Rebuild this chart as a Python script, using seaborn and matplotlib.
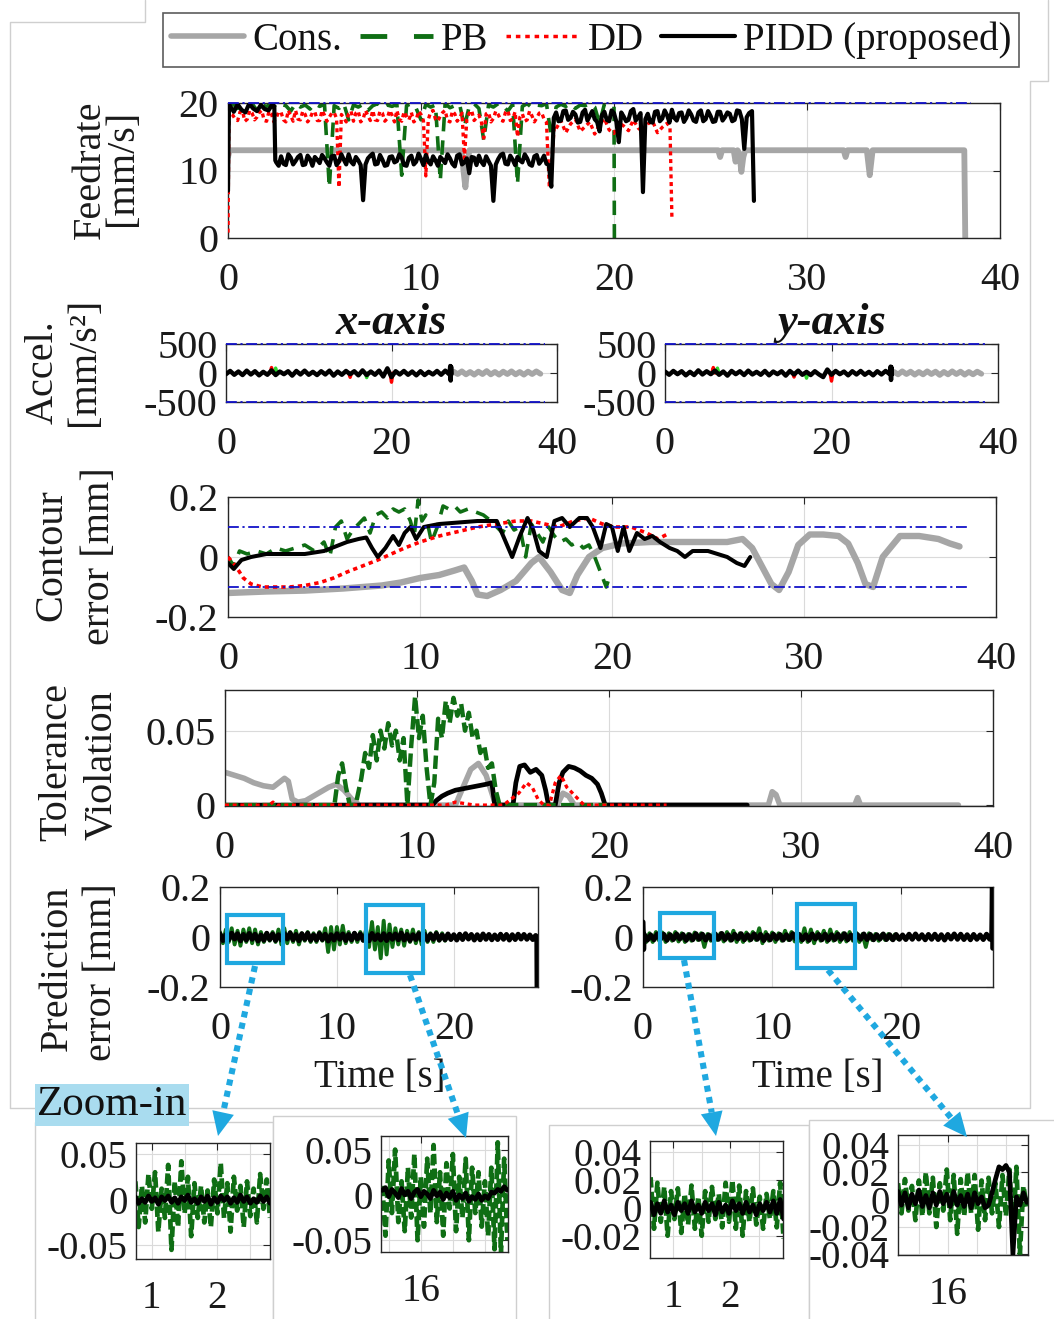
import numpy as np
import matplotlib
matplotlib.use("Agg")
import matplotlib.pyplot as plt
import seaborn as sns
from matplotlib.lines import Line2D
from matplotlib.patches import Rectangle, Polygon

# ------------------------------------------------------------------
# Series values
# ------------------------------------------------------------------
LIMIT_END = 38.5          # end of the limit lines [s]
FEED_LIMIT = 20.0         # feedrate limit [mm/s]
ACC_LIMIT = 500.0         # acceleration limit [mm/s^2]
TOL = 0.1                 # contour tolerance [mm]

# --- Feedrate [mm/s] ---
cons_feed_t = [0.0, 0.08, 12.1, 12.2, 12.3, 12.4, 12.5, 25.4, 25.5, 25.6, 26.2, 26.3,
               26.4, 26.5, 26.6, 26.7, 26.8, 31.9, 32.0, 32.1, 33.1, 33.25, 33.4,
               38.15, 38.2]
cons_feed_v = [12.0, 13.0, 13.0, 10.0, 7.5, 10.5, 13.0, 13.0, 12.0, 13.0, 13.0, 11.3,
               13.0, 12.5, 9.8, 12.0, 13.0, 13.0, 12.0, 13.0, 13.0, 9.3, 13.0,
               13.0, 0.0]

pb_feed_v = [19.6, 19.9, 19.2, 19.8, 19.4, 19.9, 18.9, 19.7, 19.5, 19.9,
             19.3, 19.8, 19.6, 18.8, 19.9, 19.4, 19.7, 19.1, 19.9, 19.5,
             19.8, 7.5, 19.6, 19.2, 19.9, 17.5, 19.7, 19.4, 19.8, 18.9,
             19.6, 19.9, 19.3, 19.7, 19.5, 19.8, 9.3, 19.6, 19.9, 19.2,
             17.5, 19.8, 19.4, 19.7, 8.5, 19.9, 19.3, 19.6, 19.8, 16.5,
             19.5, 19.9, 19.2, 14.5, 19.7, 19.4, 19.9, 19.6, 18.8, 19.8,
             8.0, 19.5, 19.9, 19.3, 19.7, 19.6, 19.9, 15.0, 19.4, 19.8,
             19.5, 19.9, 19.2, 19.7, 19.6, 19.9, 19.4, 17.0, 19.8, 19.5]   # t = 0 .. 19.75
pb_feed_end_t = [20.0, 20.02]
pb_feed_end_v = [19.5, 0.0]

dd_feed_start_t = [0.0, 0.05]
dd_feed_start_v = [0.8, 18.5]
dd_feed_hi_v = [18.2, 17.6, 17.4, 18.7, 18.8, 17.3, 17.6, 18.9, 18.5, 17.5,
                17.9, 18.6, 18.9, 17.4, 17.3, 18.8, 18.4, 17.2, 17.8, 18.7,
                18.6, 17.5, 17.2, 18.9, 18.1, 17.3, 18.9, 17.6, 17.5, 18.8,
                18.3, 17.2, 17.7, 18.6, 18.7, 17.4, 17.4, 18.9, 18.2, 17.3,
                17.9, 18.5, 18.6, 17.7, 7.5, 18.3, 17.8, 17.2, 18.4, 18.8,
                17.3, 18.5, 18.8, 17.2, 17.6, 18.9, 18.1, 17.4, 18.9, 17.5,
                17.4, 18.8, 18.5, 17.3, 17.7, 18.9, 18.2, 17.2, 18.9, 17.6,
                17.3, 18.7, 18.0, 17.5, 18.6, 17.2, 17.5, 18.8, 18.3, 17.4,
                9.2, 17.5, 18.7, 18.9, 17.6, 17.3, 18.1, 18.6, 18.9, 17.4,
                17.2, 18.8, 18.4, 17.3, 17.8, 18.5, 11.8, 17.6, 18.5, 18.9,
                17.4, 17.8, 18.2, 17.3, 14.8, 18.4, 18.6, 17.2, 17.7, 18.8,
                18.3, 17.5, 17.3, 18.6, 18.9, 17.4, 17.6, 18.7, 15.0, 17.9,
                18.4, 17.3, 17.5, 18.8, 18.1, 17.2, 17.8, 18.5, 18.6, 17.6, 17.2]  # t = 0.25 .. 16.5
dd_feed_step_t = [16.65, 16.75, 16.9]
dd_feed_step_v = [7.5, 10.0, 16.5]
dd_feed_lo_v = [16.2, 17.4, 15.6, 16.9, 17.6, 15.8, 16.5, 17.2, 15.4, 16.8,
                17.7, 16.0, 15.5, 17.1, 16.6, 15.9, 17.5, 16.3, 15.7, 16.9,
                17.3, 15.6, 16.4, 17.0]                                       # t = 17.0 .. 22.75
dd_feed_end_t = [22.9, 23.0]
dd_feed_end_v = [16.5, 3.0]

pidd_feed_start_t = [0.0, 0.05]
pidd_feed_start_v = [7.0, 19.5]
pidd_feed_hi_v = [19.6, 18.7, 19.8, 19.0, 18.6, 19.9, 19.2, 18.8, 19.7, 19.1, 18.9, 19.8]  # t = 0.1 .. 2.3
pidd_feed_drop_t = [2.4, 2.45]
pidd_feed_drop_v = [19.5, 11.5]
pidd_feed_mid_v = [11.2, 10.7, 12.1, 11.0, 10.8, 12.4, 11.9, 10.9, 11.4, 12.0,
                   12.3, 10.8, 10.9, 12.2, 11.7, 10.7, 12.0, 11.6, 11.1, 12.3,
                   11.8, 11.2, 10.7, 12.1, 12.2, 10.8, 11.3, 12.4, 11.6, 10.9,
                   12.4, 11.3, 10.9, 12.0, 11.5, 10.8, 5.6, 10.9, 11.8, 12.2,
                   12.5, 10.9, 11.0, 12.3, 11.6, 10.7, 10.8, 12.0, 12.1, 11.2,
                   11.4, 12.4, 11.9, 10.8, 10.7, 11.9, 12.2, 10.9, 11.3, 12.5,
                   11.7, 10.8, 12.3, 11.4, 10.9, 12.1, 11.5, 10.7, 12.0, 11.6,
                   11.1, 12.4, 11.8, 11.0, 10.6, 12.2, 12.4, 10.9, 11.2, 11.8,
                   9.6, 12.0, 11.9, 10.8, 12.2, 11.3, 10.8, 12.1, 11.4, 10.7,
                   5.5, 10.9, 11.7, 12.3, 12.5, 11.0, 10.9, 12.2, 11.6, 10.8,
                   12.0, 11.5, 11.2, 12.4, 11.8, 10.9, 10.7, 12.1, 12.3, 11.0,
                   11.5, 12.2, 11.0, 10.8, 7.6]                               # t = 2.5 .. 16.75
pidd_feed_rise_t = [16.88]
pidd_feed_rise_v = [17.8]
pidd_feed_top_v = [18.6, 17.3, 17.4, 18.8, 18.9, 17.5, 17.8, 18.7, 18.3, 17.1,
                   17.2, 18.6, 19.0, 17.4, 18.1, 18.8, 17.6, 17.2, 15.8, 18.2,
                   18.7, 17.5, 17.3, 18.9, 18.5, 17.2, 14.2, 18.6, 18.0, 17.3,
                   17.5, 18.8, 19.1, 17.4, 17.9, 18.5, 6.8, 17.6, 18.4, 17.2,
                   17.1, 18.7, 18.8, 17.3, 17.7, 18.9, 18.2, 17.1, 19.0, 17.8,
                   17.4, 18.5, 18.6, 17.2, 17.8, 18.9, 18.3, 17.4, 17.2, 18.6,
                   18.9, 17.3, 17.6, 18.8, 18.1, 17.2, 17.3, 18.7, 18.7, 17.4,
                   17.9, 18.6, 18.4, 17.3, 17.5, 18.9, 18.8, 17.6, 13.2, 17.9,
                   18.5]                                                     # t = 17.0 .. 27.0
pidd_feed_end_t = [27.15, 27.25]
pidd_feed_end_v = [18.8, 5.5]

# --- Acceleration [mm/s^2] ---
acc_x_pidd_v = [-20, 35, -30, 25, -35, 40, -25, 30, -40, 20, -30, 45, -35, 25, -20, 30,
                -45, 35, -25, 40, -30, 20, -35, 30, -25, 40, -45, 25, -30, 35, -20, 30,
                -40, 45, -35, 25, -30, 40, -60, 80, -70, 30, -25, 35, -30, 25, -40, 30,
                -35, 20, -25, 35, -30, 40, -25]                              # t = 0 .. 27
acc_x_pidd_end_t = [27.1, 27.15, 27.2, 27.25]
acc_x_pidd_end_v = [120, -130, 110, -20]
acc_x_cons_v = [25, -20, 30, -25, 20, -30, 25, -20, 35, -25, 20, -30, 25, -20, 30, -25,
                20, -30, 25, -20, 30, -15]                                   # t = 27.5 .. 38
acc_x_dd_t = [5.5, 15.0, 20.0]
acc_x_dd_v = [95, -75, -160]
acc_x_pb_t = [6.0, 17.0]
acc_x_pb_v = [85, -80]

acc_y_pidd_v = [25, -30, 35, -20, 30, -40, 20, -35, 45, -25, 30, -20, 40, -30, 25, -45,
                35, -20, 30, -35, 40, -25, 20, -30, 35, -40, 25, -20, 30, -45, 35, -25,
                40, -30, 20, -35, 30, -25, -70, 60, -30, 35, -20, 25, -40, 30, -25, 35,
                -30, 20, -40, 30, -25, 35, -20]
acc_y_pidd_end_t = [27.1, 27.15, 27.2, 27.25]
acc_y_pidd_end_v = [110, -120, 100, -25]
acc_y_cons_v = [20, -25, 30, -20, 25, -30, 20, -25, 30, -20, 25, -35, 20, -25, 30, -20,
                25, -30, 20, -25, 25, -15]
acc_y_dd_t = [5.8, 15.5, 20.0]
acc_y_dd_v = [95, -70, -140]
acc_y_pb_t = [6.3, 17.0]
acc_y_pb_v = [85, -90]

# --- Contour error [mm] ---
cons_ce_t = [0, 2, 4, 6, 8, 9, 10, 11, 11.8, 12.3, 12.7, 13.0, 13.5, 14.2, 15.0, 15.8,
             16.2, 16.8, 17.4, 17.8, 18.2, 18.8, 19.5, 20.5, 22, 24, 26, 26.8, 27.3,
             27.8, 28.3, 28.7, 29.2, 29.7, 30.3, 31, 31.8, 32.3, 32.8, 33.2, 33.6,
             34.1, 35, 36, 37, 37.6, 38.1]
cons_ce_v = [-0.12, -0.115, -0.112, -0.105, -0.095, -0.085, -0.07, -0.06, -0.045, -0.035,
             -0.08, -0.125, -0.13, -0.11, -0.08, -0.02, 0.0, -0.05, -0.11, -0.12, -0.06,
             0.0, 0.03, 0.045, 0.05, 0.05, 0.05, 0.06, 0.03, -0.03, -0.09, -0.11, -0.05,
             0.04, 0.075, 0.075, 0.07, 0.045, -0.02, -0.09, -0.1, 0.0, 0.07, 0.07, 0.06,
             0.045, 0.035]

pb_ce_t = [0, 0.3, 0.6, 1, 1.5, 2, 2.5, 3, 3.5, 4, 4.5, 5, 5.3, 5.6, 5.9, 6.2, 6.5, 6.8,
           7.1, 7.4, 7.7, 8, 8.3, 8.6, 8.9, 9.2, 9.5, 9.7, 9.9, 10.1, 10.3, 10.6, 10.9,
           11.2, 11.5, 11.8, 12.1, 12.5, 12.9, 13.3, 13.7, 14.0, 14.3, 14.6, 14.9, 15.2,
           15.5, 15.8, 16.1, 16.4, 16.7, 17.0, 17.3, 17.6, 17.9, 18.2, 18.5, 18.8, 19.1,
           19.4, 19.7, 19.9]
pb_ce_v = [0.0, -0.03, 0.02, 0.01, 0.02, 0.01, 0.03, 0.02, 0.03, 0.04, 0.02, 0.05, 0.0,
           0.1, 0.12, 0.06, 0.09, 0.11, 0.13, 0.08, 0.14, 0.15, 0.13, 0.16, 0.15, 0.16,
           0.12, 0.07, 0.19, 0.12, 0.14, 0.05, 0.1, 0.17, 0.16, 0.17, 0.15, 0.16, 0.15,
           0.14, 0.12, 0.1, 0.08, 0.12, 0.09, 0.1, 0.0, 0.11, 0.08, 0.05, 0.1, 0.07,
           0.05, 0.06, 0.04, 0.05, 0.03, 0.04, 0.0, -0.05, -0.1, -0.06]

dd_ce_t = [0, 0.4, 0.8, 1.2, 1.8, 2.5, 3.2, 4, 4.8, 5.5, 6.2, 7, 7.8, 8.5, 9.2, 10, 11, 12,
           13, 14, 15, 15.8, 16.5, 17.2, 18, 18.8, 19.5, 20.2, 21, 21.8, 22.4, 23]
dd_ce_v = [0.0, -0.03, -0.07, -0.09, -0.1, -0.1, -0.1, -0.095, -0.085, -0.07, -0.05, -0.03,
           -0.01, 0.01, 0.03, 0.05, 0.07, 0.085, 0.1, 0.11, 0.12, 0.12, 0.11, 0.1, 0.12,
           0.13, 0.11, 0.1, 0.1, 0.08, 0.06, 0.08]

pidd_ce_t = [0, 0.3, 0.7, 1.2, 2, 3, 4, 5, 5.6, 6.2, 6.8, 7.2, 7.5, 7.8, 8.2, 8.6, 8.9,
             9.2, 9.5, 9.8, 10.2, 11, 12, 13, 14, 14.4, 14.8, 15.2, 15.6, 15.9, 16.2, 16.6,
             17.0, 17.4, 17.8, 18.3, 18.7, 19.0, 19.4, 19.7, 20.0, 20.3, 20.6, 20.9, 21.3,
             21.7, 22.1, 22.5, 23.0, 23.4, 23.8, 24.2, 25, 26, 26.5, 26.9, 27.2]
pidd_ce_v = [-0.02, -0.04, -0.01, 0.0, 0.01, 0.01, 0.01, 0.02, 0.035, 0.05, 0.06, 0.065,
             0.03, 0.0, 0.03, 0.07, 0.04, 0.08, 0.1, 0.06, 0.1, 0.11, 0.115, 0.12, 0.12,
             0.06, 0.0, 0.07, 0.13, 0.09, 0.02, 0.0, 0.12, 0.13, 0.1, 0.13, 0.13, 0.1,
             0.03, 0.11, 0.1, 0.02, 0.1, 0.02, 0.08, 0.06, 0.07, 0.05, 0.03, 0.02, 0.0,
             0.02, 0.02, 0.0, -0.02, -0.03, 0.0]

# --- Tolerance violation [mm] ---
cons_tv_t = [0, 0.5, 1.0, 1.5, 2.0, 2.5, 2.8, 3.1, 3.3, 3.5, 3.8, 4.2, 4.6, 5.0, 5.4, 5.8,
             6.2, 6.6, 7.0, 12.0, 12.4, 12.8, 13.2, 13.6, 13.9, 14.1, 17.3, 17.6, 17.9,
             18.2, 28.3, 28.5, 28.7, 28.9, 32.8, 32.95, 33.1, 38.2]
cons_tv_v = [0.022, 0.02, 0.018, 0.015, 0.013, 0.012, 0.015, 0.018, 0.016, 0.004, 0.002,
             0.003, 0.006, 0.009, 0.012, 0.014, 0.01, 0.004, 0.0, 0.0, 0.012, 0.024, 0.028,
             0.02, 0.008, 0.0, 0.0, 0.008, 0.006, 0.0, 0.0, 0.009, 0.007, 0.0, 0.0, 0.005,
             0.0, 0.0]

pb_tv_t = [0.0, 5.7, 5.9, 6.1, 6.3, 6.5, 6.8, 7.1, 7.3, 7.5, 7.7, 7.9, 8.1, 8.3, 8.5, 8.7,
           8.9, 9.1, 9.3, 9.5, 9.7, 9.9, 10.1, 10.3, 10.5, 10.7, 10.9, 11.1, 11.3, 11.5,
           11.7, 11.9, 12.1, 12.3, 12.5, 12.7, 12.9, 13.1, 13.3, 13.5, 13.7, 13.9, 14.1,
           14.3, 19.9]
pb_tv_v = [0.0, 0.0, 0.02, 0.028, 0.012, 0.0, 0.0, 0.018, 0.035, 0.025, 0.047, 0.03, 0.05,
           0.038, 0.055, 0.04, 0.05, 0.03, 0.045, 0.0, 0.04, 0.073, 0.045, 0.06, 0.025, 0.0,
           0.015, 0.058, 0.045, 0.07, 0.055, 0.072, 0.06, 0.068, 0.05, 0.062, 0.045, 0.05,
           0.035, 0.04, 0.025, 0.028, 0.01, 0.0, 0.0]

dd_tv_t = [0, 2.3, 2.5, 2.7, 11.5, 12.0, 12.5, 13.0, 14.5, 14.9, 15.3, 15.7, 16.0, 16.3,
           16.6, 16.9, 17.2, 17.5, 17.8, 18.1, 18.4, 18.7, 19.0, 23.0]
dd_tv_v = [0, 0, 0.002, 0, 0, 0.002, 0.001, 0.0, 0.0, 0.004, 0.008, 0.015, 0.012, 0.004,
           0.0, 0.0, 0.015, 0.02, 0.012, 0.008, 0.004, 0.0, 0.0, 0.0]

pidd_tv_t = [0, 10.8, 11.0, 11.3, 11.6, 12.0, 12.4, 12.8, 13.2, 13.6, 13.9, 14.05, 14.2,
             15.0, 15.15, 15.35, 15.6, 15.9, 16.2, 16.5, 16.7, 16.85, 17.2, 17.4, 17.6,
             17.9, 18.2, 18.5, 18.8, 19.1, 19.4, 19.6, 19.8, 27.2]
pidd_tv_v = [0, 0, 0.003, 0.006, 0.008, 0.01, 0.011, 0.012, 0.013, 0.014, 0.015, 0.0, 0.0,
             0.0, 0.015, 0.026, 0.027, 0.022, 0.024, 0.02, 0.01, 0.0, 0.0, 0.015, 0.022,
             0.026, 0.025, 0.023, 0.02, 0.018, 0.014, 0.008, 0.0, 0.0]

# --- Prediction error [mm], x-axis model ---
pred_x_pb_v = [0.02, -0.025, 0.03, -0.02, 0.035, -0.03, 0.025, -0.035, 0.03, -0.02,
               0.035, -0.025, 0.03, -0.03, 0.02, -0.02, 0.015, -0.015, 0.02, -0.02,
               0.03, -0.03, 0.035, -0.025, 0.02, -0.02, 0.025, -0.03, 0.015, -0.015,
               0.02, -0.02, 0.015, -0.02, 0.02, -0.015, 0.035, -0.06, 0.04, -0.05,
               0.04, -0.03, 0.045, -0.025, 0.02, -0.02, 0.015, -0.02, 0.02, -0.015,
               0.03, -0.04, 0.06, -0.05, 0.04, -0.085, 0.065, -0.07, 0.05, -0.04,
               0.035, -0.03, 0.03, -0.035, 0.025, -0.02, 0.03, -0.025, 0.02, -0.03,
               0.025, -0.02, 0.015, -0.02, 0.02, -0.015, 0.015, -0.015, 0.01, -0.01]  # t = 0 .. 19.75
pred_x_pidd_v = [0.012, -0.014, 0.009, -0.011, 0.015, -0.008, 0.013, -0.015, 0.010, -0.012,
                 0.014, -0.009, 0.011, -0.016, 0.008, -0.013, 0.015, -0.010, 0.012, -0.014,
                 0.009, -0.012, 0.014, -0.008, 0.016, -0.011, 0.010, -0.015, 0.013, -0.009,
                 0.015, -0.013, 0.008, -0.012, 0.014, -0.010, 0.011, -0.016, 0.009, -0.012,
                 0.013, -0.009, 0.012, -0.014, 0.010, -0.011, 0.015, -0.008, 0.012, -0.013,
                 0.010, -0.015, 0.014, -0.010, 0.009, -0.012, 0.013, -0.014, 0.011, -0.009,
                 0.012, -0.011, 0.016, -0.012, 0.010, -0.014, 0.009, -0.010, 0.013, -0.012,
                 0.011, -0.013, 0.010, -0.009, 0.014, -0.012, 0.008, -0.011, 0.012, -0.010,
                 0.009, -0.012, 0.011, -0.010, 0.013, -0.008, 0.010, -0.012, 0.009, -0.011,
                 0.012, -0.009, 0.010, -0.011, 0.008, -0.010, 0.011, -0.009, 0.010, -0.012,
                 0.009, -0.010, 0.011, -0.008, 0.010, -0.009, 0.008, -0.010, 0.006]  # t = 0 .. 27
pred_x_pidd_end_t = [27.1, 27.12]
pred_x_pidd_end_v = [0.0, -0.2]

# --- Prediction error [mm], y-axis model ---
pred_y_pb_v = [0.03, -0.02, 0.015, -0.02, 0.02, -0.015, 0.018, -0.02, 0.015, -0.015,
               0.02, -0.018, 0.015, -0.02, 0.012, -0.015, 0.018, -0.012, 0.015, -0.04,
               0.012, -0.015, 0.02, -0.012, 0.015, -0.018, 0.02, -0.015, 0.025, -0.02,
               0.015, -0.02, 0.018, -0.015, 0.02, -0.012, 0.035, -0.025, 0.02, -0.015,
               0.018, -0.02, 0.015, -0.015, 0.025, -0.012, 0.02, -0.018, 0.015, -0.02,
               0.035, -0.02, 0.03, -0.025, 0.02, -0.015, 0.025, -0.02, 0.03, -0.015,
               0.02, -0.02, 0.015, -0.018, 0.02, -0.015, 0.018, -0.02, 0.012, -0.04,
               0.015, -0.012, 0.012, -0.015, 0.01, -0.012, 0.012, -0.01, 0.01, -0.008]
pred_y_pidd_start_t = [0.0, 0.05]
pred_y_pidd_start_v = [0.06, -0.05]
pred_y_pidd_v = [0.010, -0.012, 0.008, -0.011, 0.012, -0.009, 0.011, -0.013, 0.009, -0.010,
                 0.012, -0.008, 0.010, -0.013, 0.009, -0.011, 0.013, -0.009, 0.011, -0.012,
                 0.008, -0.010, 0.012, -0.009, 0.014, -0.010, 0.009, -0.012, 0.011, -0.008,
                 0.013, -0.011, 0.009, -0.010, 0.012, -0.009, 0.010, -0.014, 0.008, -0.011,
                 0.011, -0.008, 0.010, -0.012, 0.009, -0.010, 0.013, -0.009, 0.010, -0.011,
                 0.009, -0.013, 0.012, -0.008, 0.010, -0.011, 0.011, -0.012, 0.009, -0.010,
                 0.011, -0.009, 0.013, -0.011, 0.008, -0.012, 0.010, -0.009, 0.012, -0.010,
                 0.010, -0.011, 0.009, -0.008, 0.012, -0.010, 0.009, -0.011, 0.010, -0.009,
                 0.008, -0.010, 0.011, -0.009, 0.012, -0.008, 0.009, -0.011, 0.010, -0.009,
                 0.011, -0.010, 0.009, -0.012, 0.010, -0.008, 0.012, -0.009, 0.011, -0.010,
                 0.009, -0.011, 0.010, -0.009, 0.008, -0.010, 0.011, -0.009]  # t = 0.1 .. 26.85
pred_y_pidd_end_t = [27.0, 27.05, 27.08]
pred_y_pidd_end_v = [0.0, 0.2, -0.045]

# --- Zoomed prediction error [mm] ---
zx1_pb = [0.02, -0.03, 0.015, -0.025, 0.028, -0.01, 0.03, -0.035, 0.012, -0.02,
          0.038, -0.055, 0.02, -0.03, 0.042, -0.015, 0.025, -0.04, 0.018, -0.02,
          0.015, -0.025, 0.01, -0.03, 0.022, -0.015, 0.04, -0.02, 0.018, -0.035,
          0.025, -0.012, 0.015, -0.03, 0.02, -0.018, 0.012, -0.025, 0.028, -0.01, 0.022, -0.02]
zx1_pidd = [0.003, -0.004, 0.001, -0.003, 0.004, -0.002, 0.002, -0.005, 0.003, -0.001,
            0.004, -0.003, 0.002, -0.004, 0.003, -0.001, 0.005, -0.003, 0.001, -0.004,
            0.003, -0.002, 0.004, -0.005, 0.002, -0.003, 0.004, -0.001, 0.003, -0.004,
            0.002, -0.003, 0.005, -0.002, 0.003, -0.004, 0.001, -0.003, 0.004, -0.002, 0.003, -0.004]
zx2_pb = [0.01, -0.045, 0.038, -0.02, 0.05, -0.03, 0.015, -0.04, 0.03, -0.025,
          0.045, -0.05, 0.02, -0.035, 0.04, -0.02, 0.055, -0.03, 0.025, -0.045,
          0.035, -0.015, 0.045, -0.04, 0.02, -0.025, 0.04, -0.05, 0.03, -0.02,
          0.025, -0.035, 0.015, -0.045, 0.03, -0.06, 0.058, -0.065, 0.04, -0.05]
zx2_pidd = [0.005, 0.008, -0.002, 0.006, 0.002, -0.003, 0.007, 0.0, 0.004, -0.004,
            0.003, 0.006, -0.002, 0.004, 0.001, -0.004, 0.005, -0.001, 0.003, -0.005,
            0.002, -0.003, 0.004, -0.006, 0.0, -0.004, 0.002, -0.007, -0.002, -0.005,
            0.001, -0.006, -0.001, -0.004, 0.003, 0.002, 0.006, 0.004, 0.009, 0.005]
zy1_pb = [0.022, -0.015, 0.018, -0.01, 0.015, -0.02, 0.012, -0.008, 0.014, -0.018,
          0.01, -0.012, 0.016, -0.015, 0.008, -0.02, 0.012, -0.01, 0.015, -0.008,
          0.01, -0.014, 0.018, -0.01, 0.02, -0.015, 0.016, -0.02, 0.012, -0.01,
          0.014, -0.012, 0.008, -0.015, 0.01, -0.008, 0.012, -0.014, 0.018, -0.022]
zy1_pidd = [0.004, -0.005, 0.003, -0.004, 0.005, -0.003, 0.002, -0.005, 0.004, -0.002,
            0.003, -0.004, 0.005, -0.003, 0.002, -0.004, 0.004, -0.002, 0.003, -0.005,
            0.004, -0.003, 0.002, -0.004, 0.005, -0.002, 0.003, -0.004, 0.004, -0.003,
            0.002, -0.005, 0.003, -0.002, 0.004, -0.003, 0.005, -0.004, 0.006, -0.008]
zy2_pb = [0.012, -0.01, 0.015, -0.008, 0.01, -0.015, 0.014, -0.012, 0.02, -0.01,
          0.016, -0.02, 0.012, -0.008, 0.022, -0.015, 0.018, -0.025, 0.015, -0.012,
          0.02, -0.01, 0.018, -0.022, 0.014, -0.015, 0.016, -0.01, 0.012, -0.02,
          0.018, -0.012, 0.022, -0.025, 0.024, -0.04, 0.01, -0.005]
zy2_pidd = [0.006, -0.004, 0.005, -0.006, 0.004, -0.003, 0.007, -0.005, 0.003, -0.006,
            0.005, -0.004, 0.006, -0.003, 0.004, -0.005, 0.006, -0.004, 0.003, -0.005,
            0.004, -0.006, 0.005, -0.003, 0.002, -0.006, -0.004, 0.005, 0.015, 0.024,
            0.022, 0.025, 0.02, -0.04, 0.002, -0.004, 0.005, -0.002]

legend_labels = ["Cons.", "PB", "DD", "PIDD (proposed)"]

# ------------------------------------------------------------------
# Styling
# ------------------------------------------------------------------
sns.set_theme(style="white")
plt.rcParams["font.family"] = ["Liberation Serif", "DejaVu Serif"]
plt.rcParams["axes.unicode_minus"] = False

W, H = 1054, 1319
C_CONS = "#a6a6a6"
C_PB = "#0f6e14"
C_PB_ACC = "#2ed82e"
C_DD = "#ff0000"
C_PIDD = "#000000"
C_LIM = "#1212c8"
C_ZOOM = "#1fa8e0"
LS_PB = (0, (4, 2.5))
LS_DD = (0, (1.2, 1.1))
LS_LIM = (0, (6, 2, 1.2, 2))
FS_TICK = 29
FS_INSET = 28
XPAD = 17

fig = plt.figure(figsize=(W / 100, H / 100), dpi=100)
fig.patch.set_facecolor("white")


def px_axes(l, t, r, b, **kw):
    return fig.add_axes([l / W, 1 - b / H, (r - l) / W, (b - t) / H], **kw)


def seg(t0, dt, vals):
    return list(np.round(t0 + dt * np.arange(len(vals)), 4)), list(vals)


def join(*parts):
    t, v = [], []
    for pt, pv in parts:
        t += list(pt)
        v += list(pv)
    return np.asarray(t, float), np.asarray(v, float)


def line(ax, t, v, color, lw, ls="-", z=2, clip=True):
    sns.lineplot(x=np.asarray(t, float), y=np.asarray(v, float), ax=ax, color=color,
                 linewidth=lw, linestyle=ls, estimator=None, sort=False,
                 legend=False, zorder=z, clip_on=clip)


def spikes(ax, ts, vs, color, lw, half=0.18):
    for tk, vk in zip(ts, vs):
        line(ax, [tk - half, tk, tk + half], [0, vk, 0], color, lw, z=3)


def style(ax, xlim, ylim, xticks, yticks, xlabels, ylabels, fs=FS_TICK,
          xminor=None, xpad=XPAD, ypad=7):
    ax.set_xlim(*xlim)
    ax.set_ylim(*ylim)
    ax.set_xticks(xticks)
    ax.set_xticklabels(xlabels)
    ax.set_yticks(yticks)
    ax.set_yticklabels(ylabels)
    if xminor is not None:
        ax.set_xticks(xminor, minor=True)
    ax.tick_params(which="both", direction="in", length=5, width=0.8, top=True,
                   right=True, colors="#262626", labelcolor="#1a1a1a")
    ax.tick_params(axis="x", labelsize=fs, pad=xpad)
    ax.tick_params(axis="y", labelsize=fs, pad=ypad)
    ax.tick_params(which="minor", length=0)
    ax.grid(True, which="both", color="#dadada", linewidth=0.8)
    ax.set_axisbelow(True)
    ax.set_xlabel("")
    ax.set_ylabel("")
    ax.set_facecolor("white")
    for s in ax.spines.values():
        s.set_color("#262626")
        s.set_linewidth(1.0)


def limit_lines(ax, levels):
    for lv in levels:
        line(ax, [0, LIMIT_END], [lv, lv], C_LIM, 1.3, LS_LIM, z=6, clip=False)


def vtext(x, y, s, fs=29):
    fig.text(x / W, 1 - y / H, s, rotation=90, ha="center", va="center", fontsize=fs,
             color="#1a1a1a")


# ------------------------------------------------------------------
# Background frames of the layout
# ------------------------------------------------------------------
back = px_axes(0, 0, W, H, zorder=-5)
back.set_xlim(0, W)
back.set_ylim(H, 0)
back.axis("off")
frame_col = "#cfcfcf"
back.plot([10, 10, 145, 145], [1108, 22, 22, 0], color=frame_col, lw=1)
back.plot([1048, 1048, 1030, 1030, 10], [0, 81, 81, 1108, 1108], color=frame_col, lw=1)
for (l, t, r) in [(35, 1122, 273), (273, 1116, 516), (549, 1125, 809), (809, 1120, 1060)]:
    back.add_patch(Rectangle((l, t), r - l, H + 10 - t, facecolor="white",
                             edgecolor=frame_col, lw=1, zorder=3))

# ------------------------------------------------------------------
# Feedrate
# ------------------------------------------------------------------
ax1 = px_axes(228, 103, 1000, 238)
line(ax1, cons_feed_t, cons_feed_v, C_CONS, 4.2, z=1)
t, v = join(seg(0.0, 0.25, pb_feed_v), (pb_feed_end_t, pb_feed_end_v))
line(ax1, t, v, C_PB, 2.6, LS_PB, z=2)
t, v = join((dd_feed_start_t, dd_feed_start_v), seg(0.25, 0.125, dd_feed_hi_v),
            (dd_feed_step_t, dd_feed_step_v), seg(17.0, 0.25, dd_feed_lo_v),
            (dd_feed_end_t, dd_feed_end_v))
line(ax1, t, v, C_DD, 2.4, LS_DD, z=3)
t, v = join((pidd_feed_start_t, pidd_feed_start_v), seg(0.1, 0.2, pidd_feed_hi_v),
            (pidd_feed_drop_t, pidd_feed_drop_v), seg(2.5, 0.125, pidd_feed_mid_v),
            (pidd_feed_rise_t, pidd_feed_rise_v), seg(17.0, 0.125, pidd_feed_top_v),
            (pidd_feed_end_t, pidd_feed_end_v))
line(ax1, t, v, C_PIDD, 3.0, z=4)
limit_lines(ax1, [FEED_LIMIT])
style(ax1, (0, 40), (0, 20), [0, 10, 20, 30, 40], [0, 10, 20],
      ["0", "10", "20", "30", "40"], ["0", "10", "20"])
vtext(90, 170, "Feedrate")
vtext(122, 168, "[mm/s]")

# ------------------------------------------------------------------
# Acceleration (x and y axes)
# ------------------------------------------------------------------
acc_sets = [
    ((226, 344, 557, 402), acc_x_pidd_v, acc_x_pidd_end_t, acc_x_pidd_end_v, acc_x_cons_v,
     acc_x_dd_t, acc_x_dd_v, acc_x_pb_t, acc_x_pb_v, "x-axis"),
    ((665, 344, 998, 402), acc_y_pidd_v, acc_y_pidd_end_t, acc_y_pidd_end_v, acc_y_cons_v,
     acc_y_dd_t, acc_y_dd_v, acc_y_pb_t, acc_y_pb_v, "y-axis"),
]
for box, pv, pet, pev, cv, ddt, ddv, pbt, pbv, ttl in acc_sets:
    ax = px_axes(*box)
    t, v = seg(27.5, 0.5, cv)
    line(ax, t, v, C_CONS, 4.0, z=1)
    spikes(ax, pbt, pbv, C_PB_ACC, 2.4)
    spikes(ax, ddt, ddv, C_DD, 2.4)
    t, v = join(seg(0.0, 0.5, pv), (pet, pev))
    line(ax, t, v, C_PIDD, 3.2, z=4)
    limit_lines(ax, [ACC_LIMIT, -ACC_LIMIT])
    style(ax, (0, 40), (-500, 500), [0, 20, 40], [-500, 0, 500],
          ["0", "20", "40"], ["-500", "0", "500"], ypad=6)
    cx = (box[0] + box[2]) / 2
    fig.text(cx / W, 1 - 323 / H, ttl, ha="center", va="center", fontsize=32,
             fontweight="bold", fontstyle="italic", color="#111111")
vtext(43, 372, "Accel.")
vtext(85, 362, "[mm/s²]")

# ------------------------------------------------------------------
# Contour error
# ------------------------------------------------------------------
ax3 = px_axes(228, 497, 996, 617)
line(ax3, cons_ce_t, cons_ce_v, C_CONS, 4.6, z=1)
line(ax3, pb_ce_t, pb_ce_v, C_PB, 2.6, LS_PB, z=2)
line(ax3, dd_ce_t, dd_ce_v, C_DD, 2.6, LS_DD, z=3)
line(ax3, pidd_ce_t, pidd_ce_v, C_PIDD, 2.9, z=4)
limit_lines(ax3, [TOL, -TOL])
style(ax3, (0, 40), (-0.2, 0.2), [0, 10, 20, 30, 40], [-0.2, 0, 0.2],
      ["0", "10", "20", "30", "40"], ["-0.2", "0", "0.2"])
vtext(52, 555, "Contour")
vtext(100, 556, "error [mm]")

# ------------------------------------------------------------------
# Tolerance violation
# ------------------------------------------------------------------
ax4 = px_axes(225, 690, 993, 806)
line(ax4, cons_tv_t, cons_tv_v, C_CONS, 4.0, z=1)
line(ax4, pb_tv_t, pb_tv_v, C_PB, 3.2, (0, (3, 1.2)), z=3)
line(ax4, dd_tv_t, dd_tv_v, C_DD, 2.4, LS_DD, z=3)
line(ax4, pidd_tv_t, pidd_tv_v, C_PIDD, 3.4, z=2)
style(ax4, (0, 40), (-0.0006, 0.0773), [0, 10, 20, 30, 40], [0, 0.05],
      ["0", "10", "20", "30", "40"], ["0", "0.05"])
vtext(57, 762, "Tolerance")
vtext(102, 765, "Violation")

# ------------------------------------------------------------------
# Prediction error (x and y models)
# ------------------------------------------------------------------
ax5a = px_axes(220, 887, 538, 987)
t, v = seg(0.0, 0.25, pred_x_pb_v)
line(ax5a, t, v, C_PB, 2.8, z=2)
t, v = join(seg(0.0, 0.25, pred_x_pidd_v), (pred_x_pidd_end_t, pred_x_pidd_end_v))
line(ax5a, t, v, C_PIDD, 3.6, z=4)
style(ax5a, (0, 27.2), (-0.2, 0.2), [0, 10, 20], [-0.2, 0, 0.2],
      ["0", "10", "20"], ["-0.2", "0", "0.2"])

ax5b = px_axes(643, 887, 993, 987)
t, v = seg(0.0, 0.25, pred_y_pb_v)
line(ax5b, t, v, C_PB, 2.8, z=2)
t, v = join((pred_y_pidd_start_t, pred_y_pidd_start_v), seg(0.1, 0.25, pred_y_pidd_v),
            (pred_y_pidd_end_t, pred_y_pidd_end_v))
line(ax5b, t, v, C_PIDD, 3.6, z=4)
style(ax5b, (0, 27.1), (-0.2, 0.2), [0, 10, 20], [-0.2, 0, 0.2],
      ["0", "10", "20"], ["-0.2", "0", "0.2"])

vtext(57, 968, "Prediction")
vtext(102, 972, "error [mm]")
for cx in (380, 818):
    fig.text(cx / W, 1 - 1077 / H, "Time [s]", ha="center", va="center", fontsize=28,
             color="#1a1a1a")

# zoom windows on the prediction-error axes: (t_start, t_end, e_low, e_high)
zoom_windows = [(ax5a, (0.6, 5.4, -0.104, 0.088)), (ax5a, (12.5, 17.4, -0.144, 0.128)),
                (ax5b, (1.3, 5.5, -0.084, 0.096)), (ax5b, (11.9, 16.4, -0.124, 0.132))]
for ax, (ta, tb, ea, eb) in zoom_windows:
    ax.add_patch(Rectangle((ta, ea), tb - ta, eb - ea, fill=False, edgecolor=C_ZOOM,
                           lw=3.0, zorder=10, clip_on=False))

# ------------------------------------------------------------------
# Zoom-in insets
# ------------------------------------------------------------------
insets = [
    ((136, 1143, 270, 1259), 0.75, 0.05, zx1_pb, zx1_pidd, (0.76, 2.8), (-0.065, 0.062),
     [1, 2], ["1", "2"], [1.5, 2.5], [-0.05, 0, 0.05], ["-0.05", "0", "0.05"]),
    ((381, 1136, 508, 1252), 15.4, 0.05, zx2_pb, zx2_pidd, (15.38, 17.36), (-0.063, 0.065),
     [16], ["16"], [15.5, 16.5, 17.0], [-0.05, 0, 0.05], ["-0.05", "0", "0.05"]),
    ((650, 1141, 783, 1258), 0.6, 0.06, zy1_pb, zy1_pidd, (0.59, 2.93), (-0.036, 0.048),
     [1, 2], ["1", "2"], [1.5, 2.5], [-0.02, 0, 0.02, 0.04], ["-0.02", "0", "0.02", "0.04"]),
    ((898, 1135, 1028, 1255), 15.14, 0.06, zy2_pb, zy2_pidd, (15.14, 17.38), (-0.0405, 0.0473),
     [16], ["16"], [15.5, 16.5, 17.0], [-0.04, -0.02, 0, 0.02, 0.04],
     ["-0.04", "-0.02", "0", "0.02", "0.04"]),
]
for box, t0, dt, gv, bv, xl, yl, xt, xtl, xm, yt, ytl in insets:
    ax = px_axes(*box)
    t, v = seg(t0, dt, gv)
    line(ax, t, v, C_PB, 3.4, (0, (2.2, 0.9)), z=2)
    t, v = seg(t0, dt, bv)
    line(ax, t, v, C_PIDD, 3.4, z=4)
    style(ax, xl, yl, xt, yt, xtl, ytl, fs=FS_INSET, xminor=xm, xpad=15, ypad=6)

# ------------------------------------------------------------------
# Arrows, label and legend
# ------------------------------------------------------------------
front = px_axes(0, 0, W, H, zorder=30)
front.set_xlim(0, W)
front.set_ylim(H, 0)
front.axis("off")
front.patch.set_alpha(0)

arrows = [((255, 966), (218, 1136)), ((410, 975), (466, 1138)),
          ((684, 960), (716, 1136)), ((828, 970), (967, 1137))]
for (x0, y0), (x1, y1) in arrows:
    d = np.array([x1 - x0, y1 - y0], float)
    L = np.hypot(*d)
    u = d / L
    n = np.array([-u[1], u[0]])
    base = np.array([x1, y1]) - 24 * u
    front.plot([x0, base[0]], [y0, base[1]], color=C_ZOOM, lw=4.4,
               linestyle=(0, (1.0, 0.9)))
    front.add_patch(Polygon([(x1, y1), tuple(base + 11 * n), tuple(base - 11 * n)],
                            closed=True, facecolor=C_ZOOM, edgecolor="none"))

fig.text(112 / W, 1 - 1105 / H, "Zoom-in", ha="center", va="center", fontsize=31,
         color="#111111", zorder=40,
         bbox=dict(boxstyle="square,pad=0.05", facecolor="#a9dcef", edgecolor="none"))

handles = [Line2D([], [], color=C_CONS, lw=4.0),
           Line2D([], [], color=C_PB, lw=3.5, linestyle=(0, (5.5, 5.5))),
           Line2D([], [], color=C_DD, lw=2.5, linestyle=(0, (1.3, 1.4))),
           Line2D([], [], color=C_PIDD, lw=3.0)]
leg = fig.legend(handles, legend_labels, loc="center", bbox_to_anchor=(591 / W, 1 - 40 / H),
                 ncol=4, fontsize=28, frameon=True, fancybox=False, handlelength=1.9,
                 handletextpad=0.2, columnspacing=0.45, borderpad=0.2, borderaxespad=0)
leg.get_frame().set_edgecolor("#333333")
leg.get_frame().set_linewidth(1.2)
for txt in leg.get_texts():
    txt.set_color("#111111")

fig.savefig("out.png", dpi=100, facecolor="white")
